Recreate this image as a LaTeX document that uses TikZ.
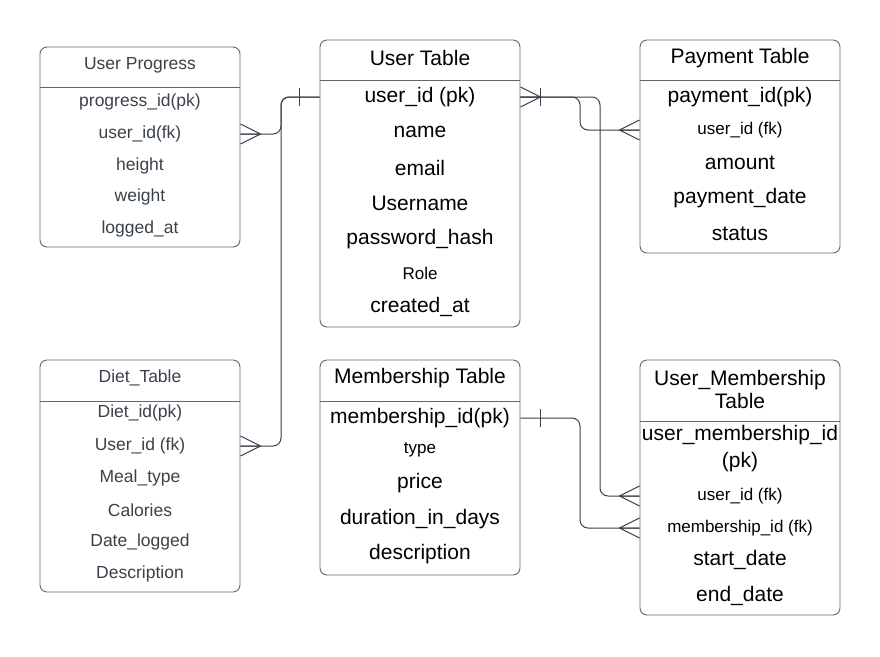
\documentclass[tikz,border=0pt]{standalone}
\usepackage{fontspec}
\setmainfont{Liberation Sans}
\usetikzlibrary{calc}

\definecolor{boxgray}{HTML}{5F6670}
\definecolor{linegray}{HTML}{3A414A}
\definecolor{textgray}{HTML}{3A414A}

\begin{document}
\begin{tikzpicture}[x=1pt, y=-1pt,
  tbl/.style={draw=boxgray, line width=0.9pt, rounded corners=7pt, minimum width=200pt, inner sep=0pt},
  fld/.style={inner sep=0pt, font=\fontsize{21}{24}\selectfont},
  fldsm/.style={inner sep=0pt, font=\fontsize{17}{20}\selectfont},
  fldlt/.style={inner sep=0pt, text=textgray, font=\fontsize{17.5}{21}\selectfont},
  rel/.style={draw=linegray, line width=1pt, rounded corners=8pt},
  many/.pic={\draw[linegray, line width=1pt] (0,-10) -- (20,0) -- (0,10) (0,0) -- (20,0);},
  one/.pic={\draw[linegray, line width=1pt] (20,-9) -- (20,9);}]
  \useasboundingbox (0,0) rectangle (880,656);

  % User Progress
  \node[tbl, minimum height=200pt] (up) at (140,147) {};
  \draw[boxgray, line width=0.9pt] (up.west |- 0,87) -- (up.east |- 0,87);
  \node[fldlt] (up-t) at (140,65) {User Progress};
  \node[fldlt] (up-pid) at (140,102) {progress\_id(pk)};
  \node[fldlt] (up-uid) at (140,134) {user\_id(fk)};
  \node[fldlt] (up-h) at (140,166) {height};
  \node[fldlt] (up-w) at (140,197) {weight};
  \node[fldlt] (up-l) at (140,229) {logged\_at};

  % User Table
  \node[tbl, minimum height=287pt] (ut) at (420,183.5) {};
  \draw[boxgray, line width=0.9pt] (ut.west |- 0,80) -- (ut.east |- 0,80);
  \node[fld] (ut-t) at (420,58) {User Table};
  \node[fld] (ut-uid) at (420,97) {user\_id (pk)};
  \node[fld] (ut-n) at (420,132) {name};
  \node[fld] (ut-e) at (420,168) {email};
  \node[fld] (ut-un) at (420,203) {Username};
  \node[fld] (ut-pw) at (420,239) {password\_hash};
  \node[fldsm] (ut-r) at (420,273) {Role};
  \node[fld] (ut-c) at (420,307) {created\_at};

  % Payment Table
  \node[tbl, minimum height=213pt] (pt) at (740,146.5) {};
  \draw[boxgray, line width=0.9pt] (pt.west |- 0,80) -- (pt.east |- 0,80);
  \node[fld] (pt-t) at (740,58) {Payment Table};
  \node[fld] (pt-pid) at (740,97) {payment\_id(pk)};
  \node[fldsm] (pt-uid) at (740,130) {user\_id (fk)};
  \node[fld] (pt-a) at (740,163) {amount};
  \node[fld] (pt-d) at (740,198) {payment\_date};
  \node[fld] (pt-s) at (740,234) {status};

  % Diet_Table
  \node[tbl, minimum height=232pt] (dt) at (140,476) {};
  \draw[boxgray, line width=0.9pt] (dt.west |- 0,401) -- (dt.east |- 0,401);
  \node[fldlt] (dt-t) at (140,378) {Diet\_Table};
  \node[fldlt] (dt-did) at (140,413) {Diet\_id(pk)};
  \node[fldlt] (dt-uid) at (140,446) {User\_id (fk)};
  \node[fldlt] (dt-m) at (140,478) {Meal\_type};
  \node[fldlt] (dt-c) at (140,510) {Calories};
  \node[fldlt] (dt-d) at (140,542) {Date\_logged};
  \node[fldlt] (dt-de) at (140,574) {Description};

  % Membership Table
  \node[tbl, minimum height=215pt] (ms) at (420,467.5) {};
  \draw[boxgray, line width=0.9pt] (ms.west |- 0,401) -- (ms.east |- 0,401);
  \node[fld] (ms-t) at (420,378) {Membership Table};
  \node[fld] (ms-mid) at (420,418) {membership\_id(pk)};
  \node[fldsm] (ms-ty) at (420,450) {type};
  \node[fld] (ms-p) at (420,483) {price};
  \node[fld] (ms-du) at (420,519) {duration\_in\_days};
  \node[fld] (ms-de) at (420,554) {description};

  % User_Membership Table
  \node[tbl, minimum height=255pt] (um) at (740,487.5) {};
  \draw[boxgray, line width=0.9pt] (um.west |- 0,421) -- (um.east |- 0,421);
  \node[fld, align=center, font=\fontsize{21}{23}\selectfont] (um-t) at (740,389) {User\_Membership\\Table};
  \node[fld, align=center, font=\fontsize{21}{27}\selectfont] (um-pk) at (740,449) {user\_membership\_id\\(pk)};
  \node[fldsm] (um-uid) at (740,496) {user\_id (fk)};
  \node[fldsm] (um-mid) at (740,528) {membership\_id (fk)};
  \node[fld] (um-s) at (740,560) {start\_date};
  \node[fld] (um-e) at (740,596) {end\_date};

  % relations
  \coordinate (trunk) at (281,0);
  \coordinate (jogP) at (580,0);
  \coordinate (jogU) at (600,0);
  \coordinate (jogM) at (580,0);

  \draw[rel] (ut.west |- ut-uid) -- (trunk |- ut-uid) -- (trunk |- dt-uid) -- (dt.east |- dt-uid);
  \draw[rel] (ut.west |- ut-uid) -- (trunk |- ut-uid) -- (trunk |- up-uid) -- (up.east |- up-uid);
  \draw[rel] (ut.east |- ut-uid) -- (jogP |- ut-uid) -- (jogP |- pt-uid) -- (pt.west |- pt-uid);
  \draw[rel] (ut.east |- ut-uid) -- (jogU |- ut-uid) -- (jogU |- um-uid) -- (um.west |- um-uid);
  \draw[rel] (ms.east |- ms-mid) -- (jogM |- ms-mid) -- (jogM |- um-mid) -- (um.west |- um-mid);

  \pic at (up.east |- up-uid) {many};
  \pic at (dt.east |- dt-uid) {many};
  \pic at (ut.east |- ut-uid) {many};
  \pic at (ut.east |- ut-uid) {one};
  \pic[xscale=-1] at (ut.west |- ut-uid) {one};
  \pic at (ms.east |- ms-mid) {one};
  \pic[xscale=-1] at (pt.west |- pt-uid) {many};
  \pic[xscale=-1] at (um.west |- um-uid) {many};
  \pic[xscale=-1] at (um.west |- um-mid) {many};
\end{tikzpicture}
\end{document}
